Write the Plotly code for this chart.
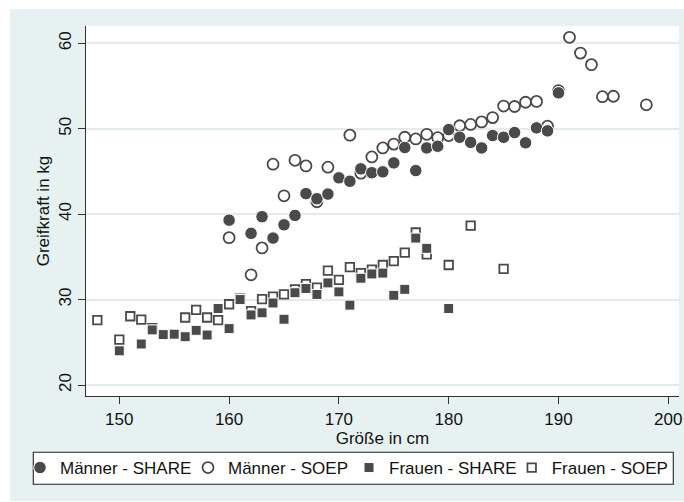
import plotly.graph_objects as go

# ---------------- data ----------------
men_share_x = [160, 162, 163, 164, 165, 166, 167, 168, 169, 170, 171, 172, 173, 174, 175,
               176, 177, 178, 179, 180, 181, 182, 183, 184, 185, 186, 187, 188, 189, 190]
men_share_y = [39.3, 37.75, 39.7, 37.2, 38.75, 39.85, 42.4, 41.8, 42.35, 44.25, 43.85, 45.3, 44.85, 44.95, 46.0,
               47.8, 45.1, 47.75, 47.95, 49.9, 49.0, 48.4, 47.75, 49.2, 49.0, 49.55, 48.35, 50.1, 49.75, 54.2]

men_soep_x = [160, 162, 163, 164, 165, 166, 167, 168, 169, 171, 172, 173, 174, 175, 176, 177, 178,
              179, 180, 181, 182, 183, 184, 185, 186, 187, 188, 189, 190, 191, 192, 193, 194, 195, 198]
men_soep_y = [37.25, 32.9, 36.05, 45.85, 42.15, 46.3, 45.65, 41.45, 45.5, 49.25, 44.8, 46.7, 47.75, 48.2, 49.0, 48.8, 49.35,
              48.95, 49.2, 50.35, 50.5, 50.8, 51.3, 52.65, 52.6, 53.1, 53.2, 50.3, 54.45, 60.7, 58.85, 57.5, 53.75, 53.8, 52.8]

women_share_x = [150, 152, 153, 154, 155, 156, 157, 158, 159, 160, 161, 162, 163, 164, 165,
                 166, 167, 168, 169, 170, 171, 172, 173, 174, 175, 176, 177, 178, 180]
women_share_y = [24.0, 24.8, 26.45, 25.9, 25.95, 25.65, 26.4, 25.85, 28.95, 26.6, 30.0, 28.2, 28.45, 29.6, 27.7,
                 30.8, 31.3, 30.6, 31.95, 30.9, 29.35, 32.5, 33.0, 33.1, 30.5, 31.2, 37.2, 36.0, 28.95]

women_soep_x = [148, 150, 151, 152, 153, 156, 157, 158, 159, 160, 161, 162, 163, 164, 165, 166,
                167, 168, 169, 170, 171, 172, 173, 174, 175, 176, 177, 178, 180, 182, 185]
women_soep_y = [27.6, 25.3, 28.05, 27.65, 26.65, 27.9, 28.8, 27.9, 27.6, 29.45, 30.1, 28.65, 30.05, 30.35, 30.6, 31.2,
                31.8, 31.4, 33.4, 32.3, 33.8, 33.1, 33.5, 34.05, 34.5, 35.5, 37.85, 35.3, 34.05, 38.65, 33.6]

x_ticks = [150, 160, 170, 180, 190, 200]
y_ticks = [20, 30, 40, 50, 60]

series_names = ["Männer - SHARE", "Männer - SOEP", "Frauen - SHARE", "Frauen - SOEP"]

# ---------------- layout geometry ----------------
W, H = 684, 502
L, R, T, B = 86, 5, 26, 106
PW, PH = W - L - R, H - T - B

def fx(px):  # pixel -> paper x
    return (px - L) / PW

def fy(py):  # pixel -> paper y
    return (H - B - py) / PH

DARK = "#4a4a4a"
BG = "#e8f1f2"
FONT = "Liberation Sans, Arial, sans-serif"

fig = go.Figure()

# hollow markers first, filled ones on top
fig.add_trace(go.Scatter(x=men_soep_x, y=men_soep_y, mode="markers", name=series_names[1],
                         legend="legend2",
                         marker=dict(symbol="circle-open", size=11, color=DARK, line=dict(width=1.8, color=DARK))))
fig.add_trace(go.Scatter(x=women_soep_x, y=women_soep_y, mode="markers", name=series_names[3],
                         legend="legend4",
                         marker=dict(symbol="square-open", size=8.5, color=DARK, line=dict(width=1.8, color=DARK))))
fig.add_trace(go.Scatter(x=men_share_x, y=men_share_y, mode="markers", name=series_names[0],
                         legend="legend",
                         marker=dict(symbol="circle", size=12.5, color=DARK, line=dict(width=1, color="white"))))
fig.add_trace(go.Scatter(x=women_share_x, y=women_share_y, mode="markers", name=series_names[2],
                         legend="legend3",
                         marker=dict(symbol="square", size=10, color=DARK, line=dict(width=1, color="white"))))

axis_common = dict(showline=True, linecolor="#333333", linewidth=1.3, ticks="outside", ticklen=7,
                   tickwidth=1.2, tickcolor="#333333", zeroline=False,
                   tickfont=dict(family=FONT, size=17, color="#111111"),
                   title_font=dict(family=FONT, size=17, color="#111111"))

fig.update_xaxes(range=[146.967, 200.975], tickvals=x_ticks, showgrid=False, ticklabeloverflow="allow",
                 title=dict(text="Größe in cm", standoff=2), **axis_common)
fig.update_yaxes(range=[18.712, 62.025], tickvals=y_ticks, showgrid=True, gridcolor="#e3eced",
                 gridwidth=1.6, tickangle=-90,
                 title=dict(text="Greifkraft in kg", standoff=2), **axis_common)

legend_common = dict(orientation="h", xref="container", yref="container", xanchor="left",
                     yanchor="middle", y=1 - 468 / H, bgcolor="rgba(0,0,0,0)", borderwidth=0,
                     font=dict(family=FONT, size=17, color="#111111"), itemwidth=30)
text_starts = [60, 228, 389, 551.7]
legends = {}
for i, key in enumerate(["legend", "legend2", "legend3", "legend4"]):
    legends[key] = dict(x=(text_starts[i] - 40) / W, **legend_common)

shapes = [
    # white outer strips around the grey graph region
    dict(type="rect", xref="paper", yref="paper", x0=fx(-5), x1=fx(W + 5), y0=fy(9), y1=fy(-5),
         fillcolor="white", line=dict(width=0), layer="below"),
    dict(type="rect", xref="paper", yref="paper", x0=fx(-5), x1=fx(10), y0=fy(H + 5), y1=fy(-5),
         fillcolor="white", line=dict(width=0), layer="below"),
    dict(type="rect", xref="paper", yref="paper", x0=fx(-5), x1=fx(W + 5), y0=fy(H + 5), y1=fy(501),
         fillcolor="white", line=dict(width=0), layer="below"),
    # legend frame
    dict(type="rect", xref="paper", yref="paper", x0=fx(33.3), x1=fx(673.3), y0=fy(484.3), y1=fy(452.3),
         fillcolor="white", line=dict(color="#222222", width=1.1), layer="below"),
]

fig.update_layout(
    width=W, height=H,
    margin=dict(l=L, r=R, t=T, b=B, autoexpand=False),
    paper_bgcolor=BG, plot_bgcolor="white",
    font=dict(family=FONT, size=17, color="#111111"),
    showlegend=True,
    shapes=shapes,
    **legends,
)

fig.write_html("out.html",
               config={"displayModeBar": False},
               post_script="document.body.style.margin='0';document.body.style.padding='0';"
                           "document.body.style.overflow='hidden';")
